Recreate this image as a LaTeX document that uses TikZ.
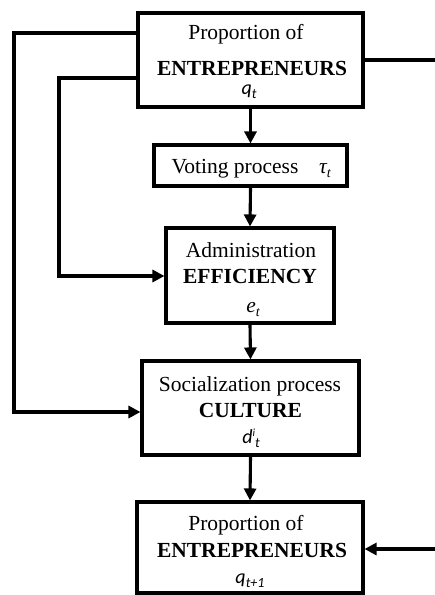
\documentclass[tikz,border=0pt]{standalone}
\usepackage{fontspec}
\setmainfont{Liberation Serif}
\newfontfamily\calib{Carlito}
\usetikzlibrary{arrows.meta}
\newcommand{\mysub}[1]{\raisebox{-4.5pt}{\fontsize{14}{14}\selectfont #1}}
\begin{document}
\begin{tikzpicture}[x=1pt,y=-1pt,
  box/.style={draw, line width=3.1pt, inner sep=0pt, rectangle},
  conn/.style={line width=3.1pt},
  arr/.style={conn, -{Triangle[length=12pt,width=12pt]}},
  txt/.style={anchor=base, inner sep=0pt, font=\fontsize{21.5}{25}\selectfont},
  btxt/.style={anchor=base, inner sep=0pt, font=\fontsize{21.5}{25}\selectfont\bfseries},
  mtxt/.style={anchor=base, inner sep=0pt, font=\fontsize{20}{22}\selectfont}]
\useasboundingbox[fill=white] (0,0) rectangle (435,595);

% boxes
\node[box, minimum width=225pt, minimum height=94pt] (b1) at (250.5,60) {};
\node[box, minimum width=193pt, minimum height=41pt] (b2) at (250.5,165.5) {};
\node[box, minimum width=168pt, minimum height=95pt] (b3) at (250,275.5) {};
\node[box, minimum width=217pt, minimum height=94pt] (b4) at (250.5,408) {};
\node[box, minimum width=226pt, minimum height=91pt] (b5) at (250,547.5) {};

% texts
\node[txt]  (t1a) at (246,39) {Proportion of};
\node[btxt] (t1b) at (252,75) {ENTREPRENEURS};
\node[mtxt] (t1c) at (249,94) {\calib\itshape q\mysub{t}};

\node[txt]  (t2a) at (235,173) {Voting process};
\node[txt]  (t2b) at (325,173) {\itshape τ\mysub{t}};

\node[txt]  (t3a) at (251,257) {Administration};
\node[btxt] (t3b) at (250,283) {EFFICIENCY};
\node[txt]  (t3c) at (253,312) {\itshape e\mysub{t}};

\node[txt]  (t4a) at (250,391) {Socialization process};
\node[btxt] (t4b) at (250.5,417) {CULTURE};
\node[mtxt] (t4c) at (251,443) {\calib\itshape d\raisebox{7pt}{\fontsize{11}{11}\selectfont i}\mysub{t}};

\node[txt]  (t5a) at (246,530) {Proportion of};
\node[btxt] (t5b) at (252,557) {ENTREPRENEURS};
\node[mtxt] (t5c) at (250,583) {\calib\itshape q\mysub{t+1}};

% helper coordinates
\coordinate (y33) at (0,33);
\coordinate (y78) at (0,78);
\coordinate (xa) at (14,0);
\coordinate (xb) at (59,0);
\coordinate (y412) at (0,412);
\coordinate (y276) at (0,276);
\coordinate (rout) at (435,60);
\coordinate (rin) at (435,549);

% vertical chain
\draw[arr] (b1.south) -- (b2.north);
\draw[arr] (b2.south) -- (b3.north);
\draw[arr] (b3.south) -- (b4.north);
\draw[arr] (b4.south) -- (b5.north);

% feedback loops on the left
\draw[arr] (b1.west |- y33) -- (xa |- y33) -- (xa |- y412) -- (b4.west |- y412);
\draw[arr] (b1.west |- y78) -- (xb |- y78) -- (xb |- y276) -- (b3.west |- y276);

% right side
\draw[conn] (b1.east) -- (rout);
\draw[arr] (rin) -- (b5.east |- rin);
\end{tikzpicture}
\end{document}
